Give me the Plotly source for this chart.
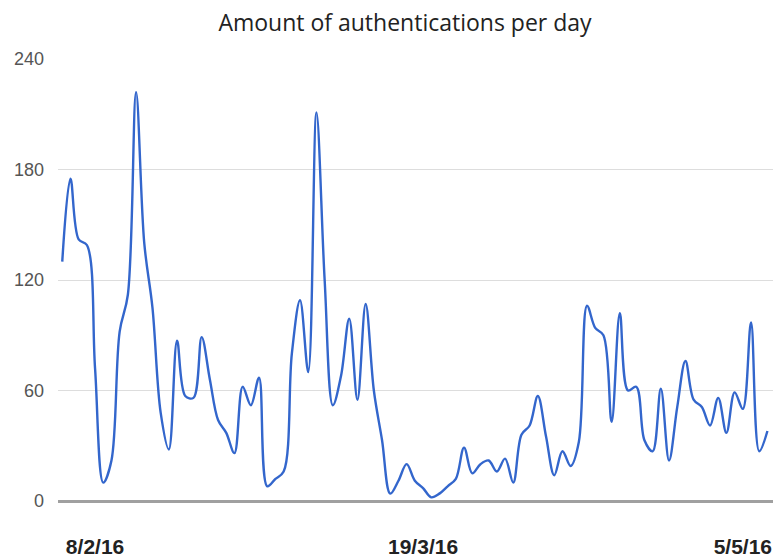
import plotly.graph_objects as go

# Daily authentication counts, index = day number
day_index = list(range(87))
authentications = [
    130, 175, 142, 139, 72, 10, 22, 92, 112, 222,
    140, 105, 48, 28, 87, 57, 56, 89, 66, 44,
    37, 26, 62, 52, 67, 8, 12, 16, 80, 109,
    70, 211, 120, 52, 68, 99, 55, 107, 60, 33,
    4, 11, 20, 11, 7, 2, 4, 8, 12, 29,
    15, 20, 22, 16, 23, 10, 36, 41, 57, 35,
    14, 27, 19, 32, 106, 94, 90, 43, 102, 60,
    62, 33, 27, 61, 22, 51, 76, 55, 51, 41,
    56, 37, 59, 50, 97, 27, 38,
]

x_tick_positions = [4, 44, 83]
x_tick_labels = ["8/2/16", "19/3/16", "5/5/16"]
y_tick_values = [0, 60, 120, 180, 240]
title_text = "Amount of authentications per day"

fig = go.Figure()
fig.add_trace(go.Scatter(
    x=day_index,
    y=authentications,
    mode="lines",
    line=dict(color="#3366cc", width=2.4, shape="spline", smoothing=1.0),
    hoverinfo="x+y",
))

fig.update_layout(
    width=777,
    height=559,
    margin=dict(l=58, r=4, t=59, b=58, autoexpand=False),
    paper_bgcolor="white",
    plot_bgcolor="white",
    showlegend=False,
    title=dict(
        text=title_text,
        x=405 / 777,
        xanchor="center",
        xref="container",
        y=1 - 23 / 559,
        yanchor="middle",
        yref="container",
        pad=dict(t=0, b=0, l=0, r=0),
        font=dict(family="Open Sans, Noto Sans, sans-serif", size=23, color="#222222"),
    ),
)

fig.update_xaxes(
    range=[-0.52, 86.68],
    tickmode="array",
    tickvals=x_tick_positions,
    ticktext=x_tick_labels,
    showgrid=False,
    zeroline=False,
    showline=False,
    ticks="",
    automargin=False,
    ticklabelstandoff=31,
    tickfont=dict(family="Liberation Sans, Arial, sans-serif", size=21, color="#222222", weight="bold"),
)

fig.update_yaxes(
    range=[0, 240],
    tickmode="array",
    tickvals=y_tick_values,
    showgrid=True,
    gridcolor="#dddddd",
    gridwidth=1,
    zeroline=True,
    zerolinecolor="#a0a0a0",
    zerolinewidth=3,
    showline=False,
    ticks="",
    automargin=False,
    ticklabelstandoff=13,
    tickfont=dict(family="Liberation Sans, Arial, sans-serif", size=18, color="#555555"),
)

fig.write_html(
    "out.html",
    config={"displayModeBar": False},
    post_script="document.body.style.margin='0';document.body.style.padding='0';",
)
